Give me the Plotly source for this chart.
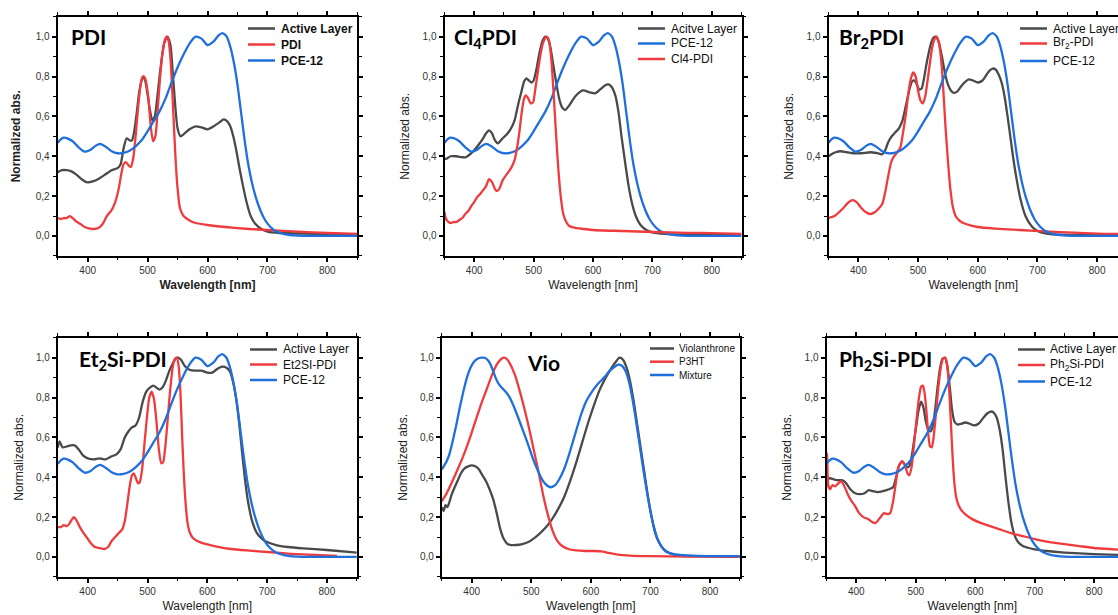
import plotly.graph_objects as go

W, H = 1118, 615

# ---------------- data ----------------
pce12_x = [350,355,360,366,375,385,395,405,413,421,430,440,450,460,470,480,490,500,510,520,530,540,550,560,570,580,590,600,610,618,625,632,638,644,650,656,662,668,674,680,688,696,705,715,730,750,780,850]
pce12_y = [0.468,0.485,0.493,0.49,0.475,0.445,0.423,0.432,0.452,0.462,0.448,0.425,0.415,0.417,0.428,0.45,0.48,0.525,0.575,0.625,0.69,0.77,0.845,0.91,0.965,1.0,0.99,0.958,0.975,1.005,1.018,1.0,0.95,0.87,0.76,0.62,0.48,0.36,0.27,0.2,0.13,0.08,0.045,0.022,0.008,0.002,0.0,0.0]

# Panel 1: PDI
p1_al_x = [350,357,365,372,380,390,398,410,420,430,440,450,455,460,465,470,474,478,482,486,490,493,496,500,504,508,512,516,520,524,528,533,538,542,546,550,555,560,570,580,590,600,610,620,627,633,638,643,648,654,660,666,672,680,690,700,720,760,800,850]
p1_al_y = [0.32,0.33,0.33,0.325,0.31,0.285,0.27,0.275,0.29,0.31,0.33,0.34,0.36,0.44,0.49,0.48,0.48,0.53,0.62,0.72,0.78,0.80,0.78,0.71,0.63,0.58,0.6,0.69,0.8,0.9,0.97,1.0,0.96,0.82,0.66,0.54,0.5,0.51,0.535,0.55,0.545,0.535,0.55,0.57,0.585,0.575,0.55,0.5,0.43,0.33,0.24,0.16,0.1,0.06,0.035,0.022,0.015,0.012,0.01,0.008]
p1_pdi_x = [350,355,360,365,370,375,380,388,395,402,410,418,425,432,440,446,452,456,460,464,468,472,476,480,484,488,491,494,497,501,505,509,513,517,521,525,529,532,535,538,541,544,547,550,554,560,570,580,600,630,670,700,750,800,850]
p1_pdi_y = [0.09,0.085,0.09,0.09,0.1,0.09,0.075,0.06,0.045,0.038,0.035,0.04,0.06,0.1,0.13,0.17,0.24,0.31,0.36,0.37,0.355,0.345,0.39,0.5,0.64,0.75,0.795,0.8,0.78,0.7,0.56,0.475,0.5,0.64,0.8,0.92,0.985,1.0,0.98,0.9,0.74,0.55,0.37,0.24,0.14,0.1,0.078,0.065,0.055,0.045,0.035,0.03,0.022,0.015,0.01]

# Panel 2: Cl4PDI
p2_al_x = [350,355,360,370,380,386,393,400,408,415,420,425,430,435,440,448,455,462,468,474,480,484,488,492,496,500,505,510,515,520,524,528,533,538,543,548,553,560,570,583,595,603,612,620,626,632,638,643,648,654,660,666,672,680,690,700,720,760,850]
p2_al_y = [0.385,0.39,0.4,0.4,0.395,0.395,0.41,0.43,0.46,0.49,0.515,0.53,0.515,0.48,0.465,0.49,0.51,0.54,0.58,0.66,0.73,0.775,0.79,0.78,0.77,0.78,0.84,0.92,0.98,1.0,0.99,0.95,0.86,0.77,0.69,0.645,0.632,0.655,0.7,0.73,0.72,0.715,0.735,0.755,0.76,0.745,0.7,0.62,0.5,0.37,0.25,0.16,0.1,0.055,0.03,0.018,0.01,0.006,0.005]
p2_cl_x = [350,352,355,360,365,370,375,380,385,390,395,400,405,410,415,420,425,430,435,438,442,448,455,462,468,472,476,480,484,487,491,495,499,503,507,511,515,519,522,526,530,534,538,542,546,550,555,560,570,585,600,650,700,760,800,850]
p2_cl_y = [0.12,0.09,0.075,0.065,0.07,0.07,0.08,0.09,0.11,0.125,0.15,0.17,0.195,0.21,0.23,0.25,0.285,0.27,0.235,0.225,0.235,0.28,0.31,0.34,0.38,0.44,0.52,0.62,0.69,0.705,0.69,0.665,0.67,0.74,0.82,0.9,0.96,0.99,1.0,0.98,0.88,0.7,0.5,0.32,0.19,0.11,0.07,0.05,0.04,0.035,0.03,0.025,0.02,0.016,0.014,0.01]

# Panel 3: Br2PDI
p3_al_x = [350,355,362,370,380,390,405,420,432,440,445,450,456,462,468,474,480,486,490,494,498,502,506,510,514,518,522,526,530,535,540,545,550,555,560,566,572,578,585,592,600,608,615,620,625,630,635,640,645,650,655,660,666,672,680,690,700,715,740,780,850]
p3_al_y = [0.4,0.41,0.42,0.425,0.42,0.415,0.415,0.42,0.415,0.41,0.43,0.47,0.5,0.52,0.54,0.58,0.66,0.74,0.775,0.78,0.76,0.735,0.74,0.79,0.86,0.92,0.97,0.995,1.0,0.97,0.9,0.82,0.76,0.73,0.718,0.725,0.75,0.77,0.785,0.78,0.77,0.78,0.81,0.83,0.84,0.835,0.81,0.77,0.7,0.6,0.49,0.38,0.27,0.18,0.1,0.05,0.025,0.012,0.006,0.004,0.003]
p3_br_x = [350,355,360,368,375,382,390,397,405,412,420,428,435,440,445,450,455,460,465,470,475,480,484,488,492,496,500,504,508,512,516,520,524,528,531,534,537,540,543,546,550,554,558,563,570,580,600,630,670,720,800,850]
p3_br_y = [0.09,0.095,0.1,0.12,0.14,0.165,0.18,0.17,0.14,0.12,0.11,0.12,0.14,0.16,0.22,0.3,0.37,0.4,0.42,0.44,0.52,0.62,0.72,0.79,0.82,0.8,0.73,0.68,0.665,0.7,0.78,0.87,0.95,0.99,1.0,0.98,0.93,0.84,0.7,0.55,0.38,0.24,0.15,0.1,0.075,0.06,0.045,0.037,0.03,0.022,0.012,0.01]

# Panel 4: Et2Si-PDI
p4_al_x = [350,353,358,365,372,378,385,392,400,410,420,430,440,448,455,462,468,474,480,486,492,498,504,510,515,520,525,530,536,542,547,551,556,562,570,580,590,600,608,615,620,626,632,638,643,648,653,658,663,668,675,683,692,700,715,735,760,800,850]
p4_al_y = [0.55,0.58,0.55,0.555,0.56,0.56,0.54,0.51,0.495,0.49,0.495,0.49,0.505,0.515,0.54,0.6,0.63,0.65,0.66,0.7,0.78,0.83,0.85,0.86,0.85,0.84,0.85,0.88,0.93,0.97,0.995,1.0,0.99,0.96,0.94,0.935,0.935,0.925,0.925,0.94,0.95,0.955,0.95,0.93,0.88,0.8,0.68,0.53,0.39,0.28,0.18,0.12,0.09,0.075,0.06,0.05,0.043,0.035,0.022]
p4_et_x = [350,355,360,365,370,374,377,381,386,392,398,405,412,420,428,434,440,446,452,458,462,466,470,474,477,480,484,487,491,495,499,503,507,511,515,519,523,526,530,534,538,542,546,549,552,555,558,561,564,567,571,576,583,592,605,620,640,670,700,740,780,817]
p4_et_y = [0.15,0.15,0.16,0.155,0.17,0.19,0.2,0.185,0.155,0.125,0.1,0.07,0.05,0.045,0.04,0.05,0.08,0.1,0.12,0.14,0.18,0.26,0.35,0.41,0.42,0.4,0.37,0.375,0.44,0.57,0.7,0.8,0.83,0.79,0.68,0.54,0.47,0.475,0.56,0.7,0.84,0.95,0.995,1.0,0.96,0.83,0.6,0.4,0.26,0.17,0.12,0.095,0.08,0.07,0.06,0.05,0.04,0.032,0.025,0.016,0.01,0.005]

# Panel 5: Vio
p5_vio_x = [350,353,356,359,362,366,370,376,382,388,394,400,406,412,418,424,430,436,442,448,454,460,466,475,485,495,505,515,525,535,545,555,565,575,585,595,605,615,625,635,642,648,654,660,666,672,678,684,690,696,702,708,715,722,730,740,760,800,850]
p5_vio_y = [0.25,0.23,0.26,0.25,0.27,0.31,0.34,0.38,0.42,0.445,0.455,0.46,0.455,0.44,0.41,0.38,0.34,0.29,0.22,0.14,0.09,0.065,0.06,0.06,0.065,0.075,0.095,0.12,0.15,0.19,0.24,0.3,0.38,0.47,0.57,0.67,0.76,0.84,0.9,0.95,0.98,1.0,0.99,0.95,0.88,0.78,0.66,0.54,0.42,0.3,0.2,0.12,0.07,0.04,0.022,0.012,0.006,0.004,0.002]
p5_p3ht_x = [350,358,366,375,385,395,405,415,425,435,443,450,455,460,466,473,480,488,496,504,512,520,528,536,544,552,562,575,590,605,618,630,645,665,700,760,850]
p5_p3ht_y = [0.28,0.32,0.37,0.43,0.5,0.58,0.67,0.76,0.84,0.92,0.97,0.995,1.0,0.99,0.96,0.91,0.84,0.75,0.65,0.54,0.43,0.31,0.21,0.13,0.08,0.055,0.04,0.033,0.03,0.03,0.028,0.02,0.012,0.007,0.004,0.002,0.001]
p5_mix_x = [350,354,358,363,368,374,380,386,392,398,404,410,416,422,428,434,440,446,452,458,464,470,478,486,494,502,510,518,526,533,540,547,555,563,572,582,592,602,612,622,632,640,646,652,658,664,670,676,682,688,694,700,706,712,718,725,735,750,780,850]
p5_mix_y = [0.44,0.46,0.48,0.52,0.58,0.66,0.75,0.83,0.9,0.95,0.98,0.995,1.0,1.0,0.985,0.95,0.9,0.865,0.845,0.825,0.8,0.76,0.7,0.635,0.57,0.5,0.44,0.39,0.36,0.35,0.36,0.39,0.44,0.51,0.6,0.7,0.78,0.83,0.87,0.9,0.935,0.955,0.965,0.96,0.935,0.88,0.79,0.68,0.56,0.44,0.33,0.23,0.15,0.09,0.055,0.03,0.017,0.01,0.006,0.004]

# Panel 6: Ph2Si-PDI
p6_al_x = [350,356,362,370,377,383,390,398,406,414,421,428,436,445,455,462,467,472,477,481,485,489,493,497,501,505,509,513,517,521,525,529,533,537,541,545,549,553,557,561,565,570,576,583,590,598,606,614,620,626,631,636,641,646,651,656,661,666,672,680,690,700,720,750,800,850]
p6_al_y = [0.39,0.395,0.39,0.385,0.385,0.37,0.34,0.32,0.315,0.32,0.335,0.33,0.325,0.33,0.34,0.35,0.4,0.46,0.48,0.465,0.45,0.455,0.5,0.58,0.66,0.74,0.78,0.75,0.68,0.64,0.63,0.66,0.75,0.86,0.95,0.995,1.0,0.96,0.86,0.74,0.68,0.665,0.668,0.675,0.67,0.66,0.67,0.7,0.72,0.73,0.725,0.7,0.64,0.54,0.4,0.27,0.17,0.11,0.075,0.055,0.045,0.038,0.03,0.022,0.014,0.01]
p6_ph_x = [350,351,353,356,360,365,370,375,380,385,390,397,405,412,420,427,432,437,442,447,452,457,462,466,470,474,478,482,486,489,493,497,501,505,509,512,515,518,521,524,527,530,534,538,542,546,550,553,556,559,562,565,568,572,578,585,595,610,625,640,660,680,700,725,750,775,800,825,850]
p6_ph_y = [0.35,0.52,0.36,0.34,0.36,0.355,0.37,0.38,0.355,0.32,0.29,0.26,0.22,0.2,0.19,0.175,0.17,0.185,0.205,0.22,0.215,0.22,0.28,0.36,0.44,0.47,0.48,0.46,0.42,0.41,0.45,0.56,0.68,0.79,0.855,0.86,0.82,0.73,0.62,0.555,0.55,0.6,0.72,0.85,0.95,0.995,1.0,0.96,0.85,0.68,0.5,0.37,0.3,0.26,0.23,0.21,0.19,0.17,0.155,0.14,0.12,0.105,0.09,0.075,0.065,0.055,0.045,0.04,0.035]

tick_vals = [0.0, 0.2, 0.4, 0.6, 0.8, 1.0]
tick_text = ["0,0", "0,2", "0,4", "0,6", "0,8", "1,0"]
x_tick_vals = [400, 500, 600, 700, 800]

BLACK = "#4a4a4a"
RED = "#ef3b3d"
BLUE = "#1f6fdd"

FONT = "Liberation Sans, Arial, sans-serif"
TITLE_FONT = "Lato, Noto Sans, sans-serif"


def pxx(p):
    return p / W


def pxy(p):
    return 1 - p / H


# panel geometry in pixels: left, right, bottom (value -0.1), top (value 1.1), x max
panels = [
    dict(l=57.7, r=357.3, b=255.9, t=16.7, xmax=850, mirror_y=True),
    dict(l=444.5, r=741.5, b=255.9, t=16.7, xmax=850, mirror_y=True),
    dict(l=828.5, r=W, b=255.9, t=16.7, xmax=835, mirror_y=False),
    dict(l=57.8, r=356.8, b=576.9, t=337.8, xmax=850, mirror_y=True),
    dict(l=441.9, r=739.8, b=576.9, t=337.8, xmax=850, mirror_y=True),
    dict(l=826.5, r=W, b=576.9, t=337.8, xmax=840, mirror_y=False),
]

series = [
    [("Active Layer", p1_al_x, p1_al_y, BLACK), ("PDI", p1_pdi_x, p1_pdi_y, RED), ("PCE-12", pce12_x, pce12_y, BLUE)],
    [("Acitve Layer", p2_al_x, p2_al_y, BLACK), ("PCE-12", pce12_x, pce12_y, BLUE), ("Cl4-PDI", p2_cl_x, p2_cl_y, RED)],
    [("Active Layer", p3_al_x, p3_al_y, BLACK), ("Br<sub>2</sub>-PDI", p3_br_x, p3_br_y, RED), ("PCE-12", pce12_x, pce12_y, BLUE)],
    [("Active Layer", p4_al_x, p4_al_y, BLACK), ("Et2SI-PDI", p4_et_x, p4_et_y, RED), ("PCE-12", pce12_x, pce12_y, BLUE)],
    [("Violanthrone", p5_vio_x, p5_vio_y, BLACK), ("P3HT", p5_p3ht_x, p5_p3ht_y, RED), ("Mixture", p5_mix_x, p5_mix_y, BLUE)],
    [("Active Layer", p6_al_x, p6_al_y, BLACK), ("Ph<sub>2</sub>Si-PDI", p6_ph_x, p6_ph_y, RED), ("PCE-12", pce12_x, pce12_y, BLUE)],
]

titles = [
    ("<b>PDI</b>", 69, 36, "left"),
    ("<b>Cl<sub>4</sub>PDI</b>", 452, 38, "left"),
    ("<b>Br<sub>2</sub>PDI</b>", 837, 38, "left"),
    ("<b>Et<sub>2</sub>Si-PDI</b>", 77, 360, "left"),
    ("<b>Vio</b>", 543, 362, "center"),
    ("<b>Ph<sub>2</sub>Si-PDI</b>", 837, 360, "left"),
]

# legend key geometry: line x0, line x1, text x, row y centres, font size, bold
legend_geo = [
    (248, 275, 279, [28.5, 44.5, 60.5], 12, True),
    (638, 665, 669, [28.5, 43.5, 59], 12, False),
    (1020, 1047, 1051, [28.5, 43.5, 61], 12, False),
    (250, 277, 281, [349.5, 364.5, 380], 12, False),
    (650, 674, 677, [348.5, 361.7, 375], 10, False),
    (1018, 1045, 1048, [349.5, 365, 381.5], 12, False),
]

fig = go.Figure()
layout_extra = {}
shapes = []
annotations = []

for i, (pan, ser) in enumerate(zip(panels, series)):
    n = "" if i == 0 else str(i + 1)
    bold = i == 0
    for name, xs, ys, col in ser:
        fig.add_trace(go.Scatter(
            x=xs, y=ys, name=name, mode="lines",
            line=dict(color=col, width=2.3, shape="spline", smoothing=0.6),
            xaxis="x" + n, yaxis="y" + n, showlegend=False,
        ))
    title_font = dict(family=FONT, size=12, color="#222")
    xt = "<b>Wavelength [nm]</b>" if bold else "Wavelength [nm]"
    yt = "<b>Normalized abs.</b>" if bold else "Normalized abs."
    layout_extra["xaxis" + n] = dict(
        domain=[pxx(pan["l"]), min(1.0, pxx(pan["r"]))],
        range=[350, pan["xmax"]], anchor="y" + n, automargin=False,
        tickvals=x_tick_vals, ticks="outside", ticklen=4, tickwidth=1.5,
        tickcolor="black",
        minor=dict(dtick=50, tick0=350, ticks="outside", ticklen=2.5, tickwidth=1.2, tickcolor="black"),
        showline=True, linecolor="black", linewidth=2, mirror="allticks",
        showgrid=False, zeroline=False,
        tickfont=dict(family=FONT, size=10, color="#333"),
        title=dict(text=xt, font=title_font, standoff=6),
    )
    layout_extra["yaxis" + n] = dict(
        domain=[pxy(pan["b"]), pxy(pan["t"])],
        range=[-0.1, 1.1], anchor="x" + n, automargin=False,
        tickvals=tick_vals, ticktext=tick_text, ticks="outside", ticklen=4, tickwidth=1.5,
        tickcolor="black",
        minor=dict(dtick=0.1, tick0=0, ticks="outside", ticklen=2.5, tickwidth=1.2, tickcolor="black"),
        showline=True, linecolor="black", linewidth=2,
        mirror="allticks" if pan["mirror_y"] else False,
        showgrid=False, zeroline=False,
        tickfont=dict(family=FONT, size=10, color="#333"),
        title=dict(text=yt, font=title_font, standoff=13 if bold else 10),
    )
    # legend keys
    lx0, lx1, tx, rows, fs, lb = legend_geo[i]
    for (name, _, _, col), ry in zip(ser, rows):
        shapes.append(dict(
            type="line", xref="paper", yref="paper",
            x0=pxx(lx0), x1=pxx(lx1), y0=pxy(ry), y1=pxy(ry),
            line=dict(color=col, width=2.5),
        ))
        annotations.append(dict(
            text=f"<b>{name}</b>" if lb else name,
            x=pxx(tx), y=pxy(ry), xref="paper", yref="paper",
            xanchor="left", yanchor="middle", showarrow=False,
            font=dict(family=FONT, size=fs, color="#111"),
        ))

for text, x, y, anchor in titles:
    annotations.append(dict(
        text=text, x=pxx(x), y=pxy(y), xref="paper", yref="paper",
        xanchor=anchor, yanchor="middle", showarrow=False,
        font=dict(family=TITLE_FONT, size=21, color="black"),
    ))

fig.update_layout(
    width=W, height=H,
    margin=dict(l=0, r=0, t=0, b=0, autoexpand=False),
    paper_bgcolor="white", plot_bgcolor="white",
    showlegend=False,
    shapes=shapes,
    annotations=annotations,
    **layout_extra,
)

fig.write_html(
    "out.html",
    config={"displayModeBar": False},
    post_script="document.body.style.margin='0px';document.body.style.overflow='hidden';",
)
